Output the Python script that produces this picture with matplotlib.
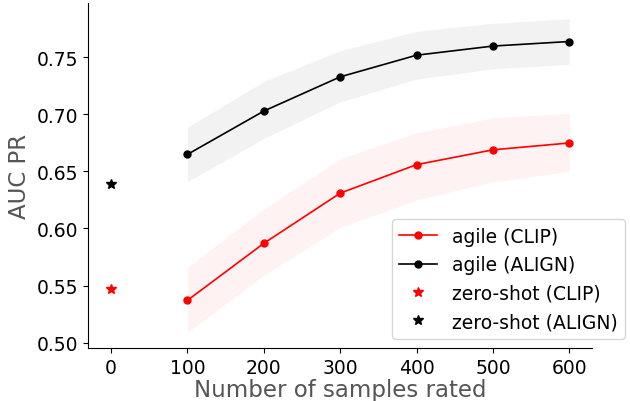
import numpy as np
import matplotlib
matplotlib.use('Agg')
import matplotlib.pyplot as plt

# Data
samples = [100, 200, 300, 400, 500, 600]

clip_mean = [0.537, 0.587, 0.631, 0.656, 0.669, 0.675]
clip_low = [0.509, 0.559, 0.601, 0.625, 0.641, 0.650]
clip_high = [0.566, 0.617, 0.661, 0.684, 0.697, 0.701]

align_mean = [0.665, 0.703, 0.733, 0.752, 0.760, 0.764]
align_low = [0.641, 0.679, 0.711, 0.731, 0.740, 0.744]
align_high = [0.689, 0.729, 0.756, 0.773, 0.780, 0.784]

zero_shot_x = [0]
zero_shot_clip = [0.547]
zero_shot_align = [0.639]

fig, ax = plt.subplots(figsize=(6.3, 4.02), dpi=100)
fig.subplots_adjust(left=0.14, right=0.94, top=0.99, bottom=0.132)

ax.fill_between(samples, clip_low, clip_high, color='red', alpha=0.05, linewidth=0)
ax.fill_between(samples, align_low, align_high, color='black', alpha=0.05, linewidth=0)

ax.plot(samples, clip_mean, color='red', marker='o', markersize=5, linewidth=1.2, label='agile (CLIP)')
ax.plot(samples, align_mean, color='black', marker='o', markersize=5, linewidth=1.2, label='agile (ALIGN)')
ax.plot(zero_shot_x, zero_shot_clip, linestyle='none', color='red', marker='*', markersize=7, label='zero-shot (CLIP)')
ax.plot(zero_shot_x, zero_shot_align, linestyle='none', color='black', marker='*', markersize=7, label='zero-shot (ALIGN)')

ax.set_xlabel('Number of samples rated', fontsize=16.5, color='#555555', labelpad=1)
ax.set_ylabel('AUC PR', fontsize=16.5, color='#555555')
ax.tick_params(labelsize=13.5)
ax.set_xticks([0, 100, 200, 300, 400, 500, 600])
ax.set_yticks([0.50, 0.55, 0.60, 0.65, 0.70, 0.75])

ax.spines['top'].set_visible(False)
ax.spines['right'].set_visible(False)

ax.legend(loc='lower right', fontsize=13.5, bbox_to_anchor=(1.084, 0.0))

plt.savefig('out.png', dpi=100, facecolor='white')
